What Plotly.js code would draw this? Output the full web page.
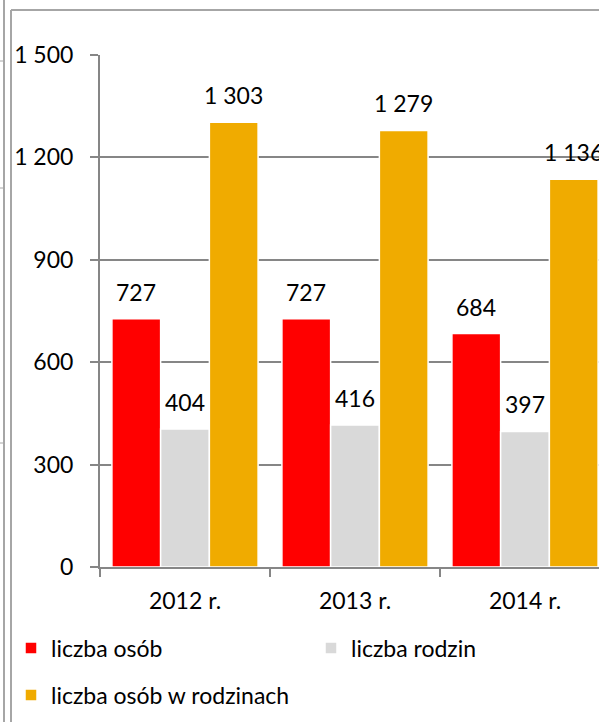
<!DOCTYPE html>
<html><head><meta charset="utf-8">
<script src="https://cdn.plot.ly/plotly-3.0.1.min.js"></script>
<style>html,body{margin:0;padding:0;overflow:hidden;background:#fff;width:599px;height:722px}#c{width:640px;height:722px}</style>
</head><body><div id="c"></div>
<script>
const categories = ['2012 r.', '2013 r.', '2014 r.'];
const liczbaOsob = [727, 727, 684];
const liczbaRodzin = [404, 416, 397];
const liczbaOsobWRodzinach = [1303, 1279, 1136];
const seriesNames = ['liczba osób', 'liczba rodzin', 'liczba osób w rodzinach'];
const yTicks = [0, 300, 600, 900, 1200, 1500];

const colors = ['#ff0000', '#d9d9d9', '#f0ab00'];
const FONT = 'Lato, "Open Sans", sans-serif';
const FS = 23;
const series = [liczbaOsob, liczbaRodzin, liczbaOsobWRodzinach];
const legends = ['legend', 'legend', 'legend2'];

const traces = series.map((vals, i) => ({
  type: 'bar', name: seriesNames[i], x: categories, y: vals,
  marker: {color: colors[i], line: {color: '#ffffff', width: 1.5}},
  legend: legends[i], hoverinfo: 'skip'
}));

const slot = 48.7;
const fmt = v => v.toLocaleString('en-US').replace(/,/g, ' ');
const annotations = [];
series.forEach((vals, i) => {
  vals.forEach((v, j) => {
    annotations.push({
      x: categories[j], y: v, xref: 'x', yref: 'y',
      text: fmt(v),
      showarrow: false, yanchor: 'bottom', xanchor: 'center',
      xshift: (i - 1) * slot, yshift: 11,
      font: {family: FONT, size: FS, color: '#000'}
    });
  });
});

const frame = '#a6a6a6';
const px = x => (x - 100) / 510;
const py = y => (722 - 155 - y) / 512;
const shapes = [
  {type: 'line', xref: 'paper', yref: 'paper', x0: px(4), x1: px(4), y0: py(0), y1: py(722), line: {color: frame, width: 2}},
  {type: 'line', xref: 'paper', yref: 'paper', x0: px(11), x1: px(11), y0: py(10), y1: py(722), line: {color: frame, width: 2}},
  {type: 'line', xref: 'paper', yref: 'paper', x0: px(11), x1: px(640), y0: py(10), y1: py(10), line: {color: frame, width: 2}},
  {type: 'line', xref: 'paper', yref: 'paper', x0: px(0), x1: px(3), y0: py(61), y1: py(61), line: {color: frame, width: 1}},
  {type: 'line', xref: 'paper', yref: 'paper', x0: px(0), x1: px(3), y0: py(188), y1: py(188), line: {color: frame, width: 1}},
  {type: 'line', xref: 'paper', yref: 'paper', x0: px(0), x1: px(3), y0: py(443), y1: py(443), line: {color: frame, width: 1}}
];

const layout = {
  width: 640, height: 722,
  margin: {l: 100, r: 30, t: 55, b: 155, autoexpand: false},
  paper_bgcolor: '#fff', plot_bgcolor: '#fff',
  separators: ', ',
  barmode: 'group', bargap: 0.14, bargroupgap: 0,
  font: {family: FONT, size: FS, color: '#000'},
  xaxis: {
    type: 'category', range: [-0.5, 2.5], showline: true, linecolor: '#868686', linewidth: 2,
    ticks: 'outside', tickson: 'boundaries', ticklen: 8, tickcolor: '#868686', tickwidth: 2,
    ticklabelstandoff: 12, automargin: false,
    showgrid: false, tickfont: {family: FONT, size: FS, color: '#000'}, fixedrange: true
  },
  yaxis: {
    range: [0, 1500], tickvals: yTicks, ticktext: yTicks.map(fmt),
    showline: true, linecolor: '#868686', linewidth: 2,
    ticks: 'outside', ticklen: 8, tickcolor: '#868686', tickwidth: 2,
    ticklabelstandoff: 12, automargin: false,
    showgrid: true, gridcolor: '#868686', gridwidth: 2, zeroline: false,
    tickfont: {family: FONT, size: FS, color: '#000'}, fixedrange: true
  },
  legend: {
    orientation: 'h', x: px(11), xanchor: 'left', y: py(648), yanchor: 'middle',
    entrywidth: 255, font: {family: FONT, size: FS, color: '#000'}, bgcolor: 'rgba(0,0,0,0)',
    itemclick: false
  },
  legend2: {
    orientation: 'h', x: px(11), xanchor: 'left', y: py(695), yanchor: 'middle',
    font: {family: FONT, size: FS, color: '#000'}, bgcolor: 'rgba(0,0,0,0)',
    itemclick: false
  },
  annotations: annotations,
  shapes: shapes,
  showlegend: true
};

Plotly.newPlot('c', traces, layout, {displayModeBar: false, staticPlot: true});
</script>
</body></html>
